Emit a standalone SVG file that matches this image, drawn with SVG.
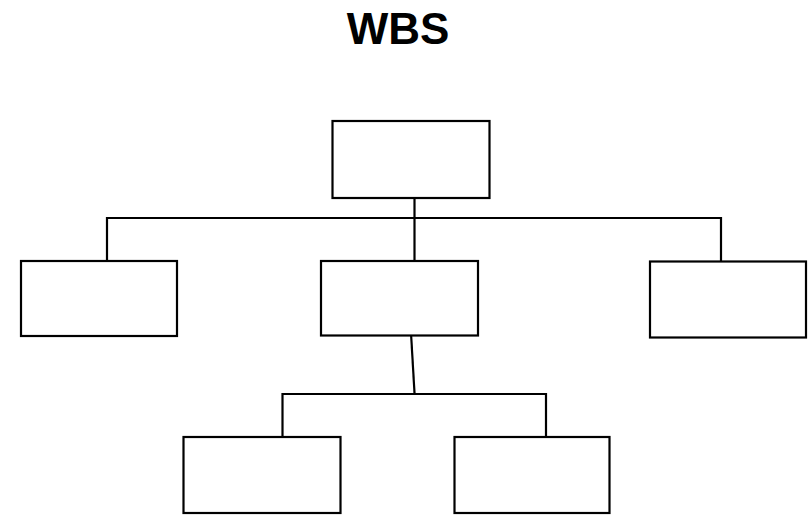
<svg xmlns="http://www.w3.org/2000/svg" width="810" height="515" viewBox="0 0 810 515">
<style>
.box{fill:#fff;stroke:#000;stroke-width:2.2}
.ln{fill:none;stroke:#000;stroke-width:2.2}
.title{font-family:"Liberation Sans",Arial,sans-serif;font-weight:bold;font-size:44px;fill:#000}
</style>
<rect width="810" height="515" fill="#fff"/>
<text class="title" x="398" y="44" text-anchor="middle">WBS</text>
<g id="connectors">
<path class="ln" d="M414.5 198V218M107 261V218H721V261M414.5 218V261"/>
<path class="ln" d="M411 333L414.5 393"/>
<path class="ln" d="M282.5 437V394H546V437"/>
</g>
<g id="root"><rect class="box" x="332.5" y="121" width="157" height="77"/></g>
<g id="left"><rect class="box" x="21" y="261" width="156" height="75"/></g>
<g id="middle"><rect class="box" x="321" y="261" width="157" height="74.5"/></g>
<g id="right"><rect class="box" x="650" y="261.5" width="156" height="76"/></g>
<g id="child1"><rect class="box" x="183.5" y="437" width="157" height="76"/></g>
<g id="child2"><rect class="box" x="454.5" y="437" width="155" height="76"/></g>
</svg>
